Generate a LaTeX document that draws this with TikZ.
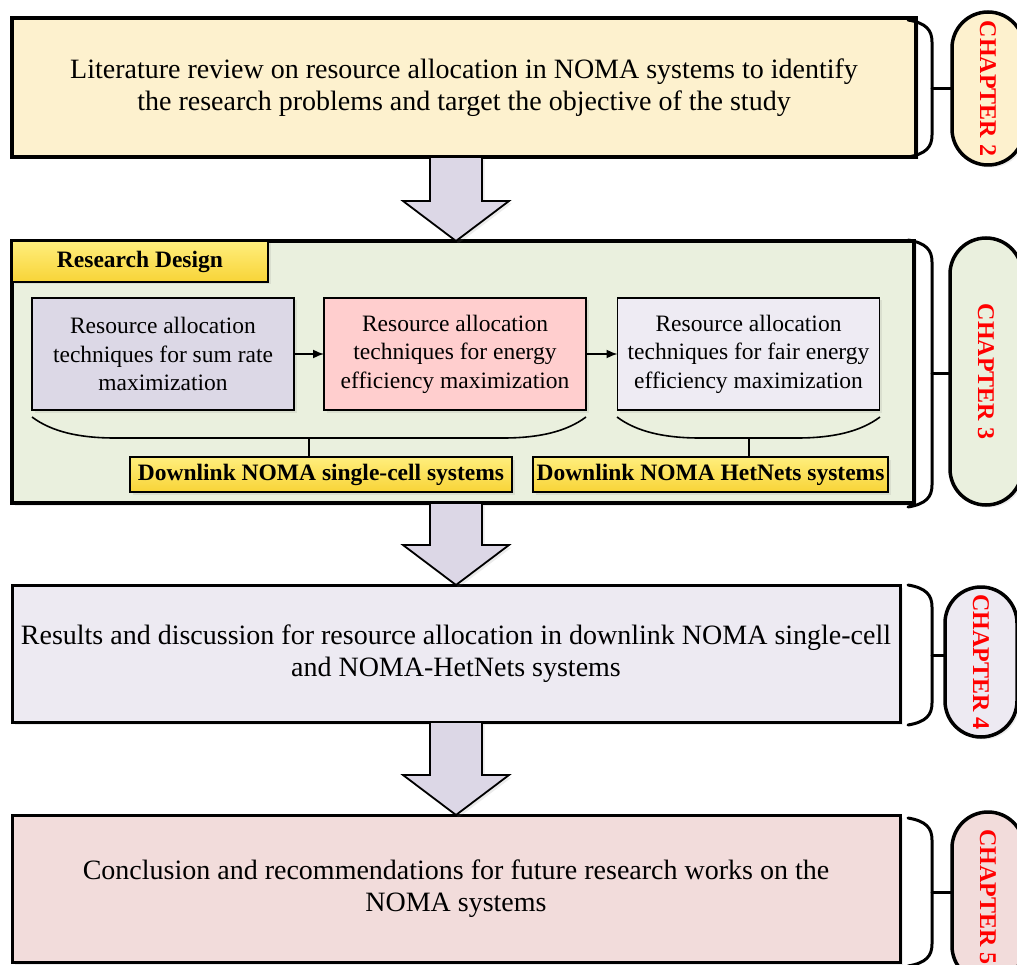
\documentclass[tikz,border=0pt]{standalone}
\usepackage{fontspec}
\setmainfont{Liberation Serif}
\usetikzlibrary{calc,shadows,arrows.meta}
\definecolor{litfill}{RGB}{253,241,206}
\definecolor{designfill}{RGB}{234,240,222}
\definecolor{sumfill}{RGB}{220,216,230}
\definecolor{eefill}{RGB}{255,206,206}
\definecolor{fairfill}{RGB}{238,235,243}
\definecolor{resfill}{RGB}{237,234,242}
\definecolor{concfill}{RGB}{242,220,219}
\definecolor{arrowfill}{RGB}{220,215,230}
\definecolor{tagtop}{RGB}{255,238,125}
\definecolor{tagbot}{RGB}{248,212,55}

\begin{document}
\begin{tikzpicture}[x=1pt,y=-1pt,>={Latex[length=11pt,width=9pt]},
  shade/.style={drop shadow={opacity=0.15,shadow xshift=2.5pt,shadow yshift=-2.5pt}},
  outerbox/.style={draw,line width=3.5pt,outer sep=0pt,inner sep=0pt,align=center,
    font=\fontsize{28}{31.5}\selectfont,shade},
  innerbox/.style={draw,line width=1.8pt,outer sep=0pt,inner sep=0pt,align=center,
    minimum width=262pt,minimum height=112pt,font=\fontsize{23.5}{28.5}\selectfont,shade},
  tagbox/.style={draw,line width=1.8pt,outer sep=0pt,inner sep=0pt,top color=tagtop,
    bottom color=tagbot,font=\bfseries\fontsize{23.5}{27}\selectfont,shade},
  chapter/.style={draw,line width=3.5pt,outer sep=0pt,rounded corners=36pt,
    minimum width=72pt,text=red,font=\bfseries\fontsize{24}{27}\selectfont,shade},
  bracket/.style={line width=3pt,line cap=round},
  brace/.style={line width=1.6pt},
  blockarrow/.style={draw,line width=1.8pt,fill=arrowfill,line join=miter,shade}]

\useasboundingbox (0,0) rectangle (1017,965);
\fill[white] (0,0) rectangle (1017,965);
\clip (0,0) rectangle (1017,965);

% main stages
\node[outerbox,fill=litfill,minimum width=904pt,minimum height=139pt] (lit) at (464,87.5)
  {Literature review on resource allocation in NOMA systems to identify\\
   the research problems and target the objective of the study};
\node[outerbox,fill=designfill,minimum width=902pt,minimum height=262pt] (design) at (463,372) {};
\node[outerbox,fill=resfill,line width=3pt,minimum width=888pt,minimum height=137pt] (results) at (456,653.5)
  {Results and discussion for resource allocation in downlink NOMA single-cell\\
   and NOMA-HetNets systems};
\node[outerbox,fill=concfill,line width=3pt,minimum width=888pt,minimum height=147pt] (concl) at (456,888.5)
  {Conclusion and recommendations for future research works on the\\NOMA systems};

% research design
\node[tagbox,minimum width=256pt,minimum height=41pt] (rd) at (140,261.5) {Research Design};
\node[innerbox,fill=sumfill] (sum) at (163,354)
  {Resource allocation\\techniques for sum rate\\maximization};
\node[innerbox,fill=eefill] (ee) at (455,354)
  {Resource allocation\\techniques for energy\\efficiency maximization};
\node[innerbox,fill=fairfill] (fair) at (748.5,354)
  {Resource allocation\\techniques for fair energy\\efficiency maximization};
\draw[line width=1.6pt,->] (sum) -- (ee);
\draw[line width=1.6pt,->] (ee) -- (fair);

\node[tagbox,minimum width=382pt,minimum height=35pt] (single) at (321,474.5) {Downlink NOMA single-cell systems};
\node[tagbox,minimum width=355pt,minimum height=35pt] (hetnet) at (710.5,474.5) {Downlink NOMA HetNets systems};

\draw[brace] (32,417) .. controls (52,432) and (80,438) .. (115,438) -- (503,438)
  .. controls (538,438) and (566,432) .. (586,417);
\draw[brace] (617,417) .. controls (637,432) and (665,438) .. (700,438) -- (797,438)
  .. controls (832,438) and (860,432) .. (880,417);
\coordinate (b1) at (309,438);
\coordinate (b2) at (749,438);
\draw[brace] (b1) -- (b1 |- single.north);
\draw[brace] (b2) -- (b2 |- hetnet.north);

% arrows between stages
\coordinate (ax) at (456,0);
\foreach \a/\b in {lit/design,design/results,results/concl}
  \draw[blockarrow] ($(\a.south -| ax)+(-26,0)$) -- ($(\b.north -| ax)+(-26,-40)$)
    -- ($(\b.north -| ax)+(-53,-40)$) -- (\b.north -| ax) -- ($(\b.north -| ax)+(53,-40)$)
    -- ($(\b.north -| ax)+(26,-40)$) -- ($(\a.south -| ax)+(26,0)$) -- cycle;

% chapters
\node[chapter,fill=litfill,minimum height=153pt] (ch2) at (988,88.5) {\rotatebox{-90}{CHAPTER 2}};
\node[chapter,fill=designfill,minimum height=267pt] (ch3) at (986,371.5) {\rotatebox{-90}{CHAPTER 3}};
\node[chapter,fill=resfill,minimum height=150pt] (ch4) at (981,662) {\rotatebox{-90}{CHAPTER 4}};
\node[chapter,fill=concfill,minimum height=170pt] (ch5) at (988,897) {\rotatebox{-90}{CHAPTER 5}};

\foreach \c/\t/\e in {ch2/20/157,ch3/240/507,ch4/585/725,ch5/818/966}{
  \draw[bracket] (908,\t) .. controls (926,\t+3) and (932,\t+10) .. (932,\t+22)
    -- (932,\e-22) .. controls (932,\e-10) and (926,\e-3) .. (908,\e);
  \coordinate (m\c) at (932,{(\t+\e)/2});
  \draw[bracket] (m\c) -- (m\c -| \c.west);
}
\end{tikzpicture}
\end{document}
